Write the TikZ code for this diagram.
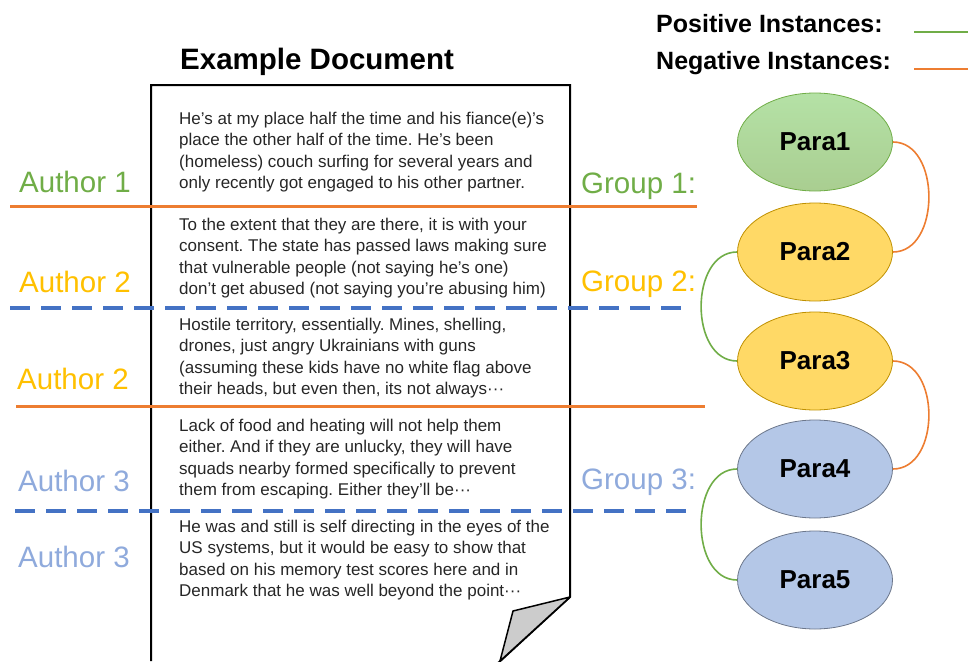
\documentclass[tikz,border=0pt]{standalone}
\usepackage{fontspec}
\setmainfont{Liberation Sans}
\usetikzlibrary{shapes.geometric}
\definecolor{posgreen}{HTML}{70AD47}
\definecolor{neworange}{HTML}{ED7D31}
\definecolor{authyellow}{HTML}{FFC000}
\definecolor{authblue}{HTML}{8FAADC}
\definecolor{sepblue}{HTML}{4472C4}
\definecolor{parayellow}{HTML}{FFD966}
\definecolor{parablue}{HTML}{B4C7E7}
\frenchspacing

\begin{document}
\begin{tikzpicture}[x=1pt, y=-1pt,
   doc text/.style={anchor=north west, align=left, inner sep=0pt, text=black!85,
                    font=\fontsize{17}{21.5}\selectfont},
   side label/.style={anchor=base west, inner sep=0pt, font=\fontsize{29.5}{31}\selectfont},
   legend label/.style={anchor=base west, inner sep=0pt, font=\fontsize{25}{28}\selectfont\bfseries},
   para/.style={draw, ellipse, minimum width=155pt, minimum height=98pt, inner sep=0pt,
                line width=0.8pt, font=\fontsize{26}{28}\selectfont\bfseries},
   posline/.style={draw=posgreen, line width=1.6pt},
   negline/.style={draw=neworange, line width=1.6pt},
   solid sep/.style={draw=neworange, line width=3pt},
   dashed sep/.style={draw=sepblue, line width=3.5pt, dash pattern=on 20pt off 11pt}]

\useasboundingbox (0,0) rectangle (968,661);

% the document sheet
\draw[line width=2pt, line join=miter] (151,661) -- (151,85) -- (570,85) -- (570,597) -- (497,664);
\draw[line width=1.5pt, fill=black!20, line join=round] (570,597) -- (513,611) -- (500,661) -- cycle;
\node[anchor=base west, inner sep=0pt, font=\fontsize{29.5}{32}\selectfont\bfseries] (title) at (180,69) {Example Document};

% paragraphs
\node[doc text] (t1) at (179,111.5) {He's at my place half the time and his fiance(e)'s\\
  place the other half of the time. He's been\\
  (homeless) couch surfing for several years and\\
  only recently got engaged to his other partner.};
\node[doc text] (t2) at (179,217.5) {To the extent that they are there, it is with your\\
  consent. The state has passed laws making sure\\
  that vulnerable people (not saying he's one)\\
  don't get abused (not saying you're abusing him)};
\node[doc text] (t3) at (179,317.5) {Hostile territory, essentially. Mines, shelling,\\
  drones, just angry Ukrainians with guns\\
  (assuming these kids have no white flag above\\
  their heads, but even then, its not always···};
\node[doc text] (t4) at (179,418.5) {Lack of food and heating will not help them\\
  either. And if they are unlucky, they will have\\
  squads nearby formed specifically to prevent\\
  them from escaping. Either they'll be···};
\node[doc text] (t5) at (179,519.5) {He was and still is self directing in the eyes of the\\
  US systems, but it would be easy to show that\\
  based on his memory test scores here and in\\
  Denmark that he was well beyond the point···};

% separators
\draw[solid sep] (10,206) -- (697,206);
\draw[dashed sep] (10,308) -- (688,308);
\draw[solid sep] (16,406) -- (705,406);
\draw[dashed sep] (15,511) -- (693,511);

% authors and groups
\node[side label, text=posgreen] (a1) at (19,192) {Author 1};
\node[side label, text=authyellow] (a2) at (19,292) {Author 2};
\node[side label, text=authyellow] (a3) at (17,389) {Author 2};
\node[side label, text=authblue] (a4) at (18,491) {Author 3};
\node[side label, text=authblue] (a5) at (18,567) {Author 3};
\node[side label, text=posgreen] (g1) at (581,193) {Group 1:};
\node[side label, text=authyellow] (g2) at (581,291) {Group 2:};
\node[side label, text=authblue] (g3) at (581,489) {Group 3:};

% legend
\node[legend label] (lpos) at (656,33) {Positive Instances:};
\node[legend label] (lneg) at (656,69) {Negative Instances:};
\draw[posline] (914,32) -- (968,32);
\draw[negline] (914,69) -- (968,69);

% paragraph nodes
\node[para, draw=posgreen, top color=green!20!posgreen!45, bottom color=posgreen!60] (p1) at (815,142) {Para1};
\node[para, draw=authyellow!75!black, fill=parayellow] (p2) at (815,252) {Para2};
\node[para, draw=authyellow!75!black, fill=parayellow] (p3) at (815,361) {Para3};
\node[para, draw=parablue!60!black, fill=parablue] (p4) at (815,469) {Para4};
\node[para, draw=parablue!60!black, fill=parablue] (p5) at (815,580) {Para5};

\draw[negline] (p1.east) .. controls +(48,0) and +(48,0) .. (p2.east);
\draw[posline] (p2.west) .. controls +(-48,0) and +(-48,0) .. (p3.west);
\draw[negline] (p3.east) .. controls +(48,0) and +(48,0) .. (p4.east);
\draw[posline] (p4.west) .. controls +(-48,0) and +(-48,0) .. (p5.west);

\end{tikzpicture}
\end{document}
